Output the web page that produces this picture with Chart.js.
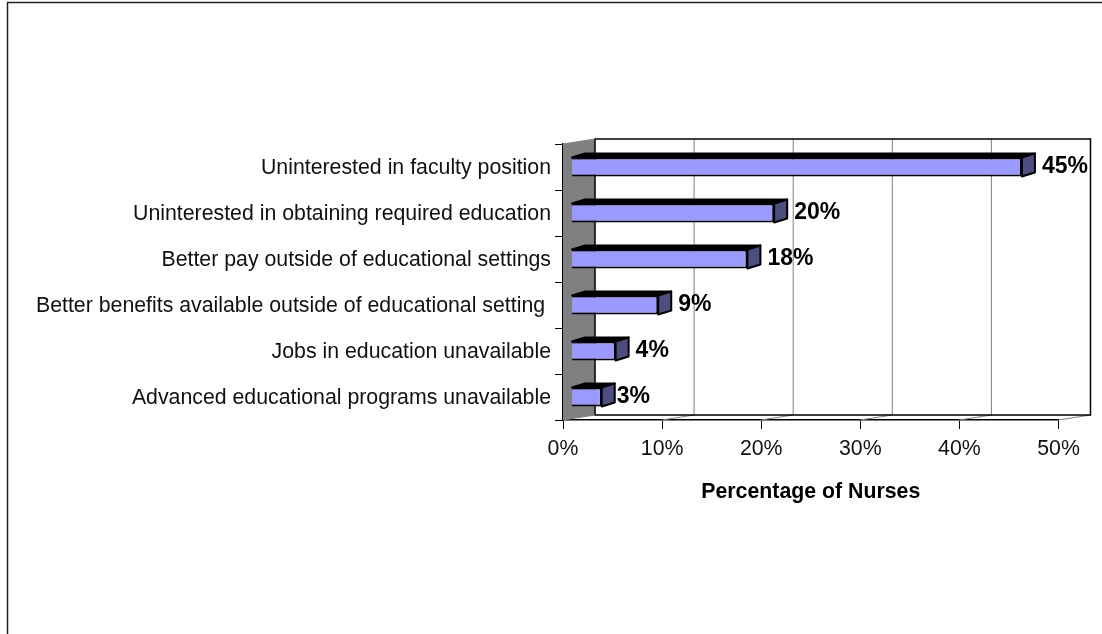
<!DOCTYPE html>
<html>
<head>
<meta charset="utf-8">
<title>Percentage of Nurses</title>
<script src="https://cdn.jsdelivr.net/npm/chart.js@4"></script>
<style>
  html, body { margin: 0; padding: 0; background: #fff; }
  #box { position: relative; width: 1102px; height: 634px; }
</style>
</head>
<body>
<div id="box"><canvas id="grafico"></canvas></div>
<script>
const categorias = [
  'Uninterested in faculty position',
  'Uninterested in obtaining required education',
  'Better pay outside of educational settings',
  'Better benefits available outside of educational setting ',
  'Jobs in education unavailable',
  'Advanced educational programs unavailable'
];
const valores = [45.4, 20.4, 17.7, 8.7, 4.4, 3.0];
const rotulos = ['45%', '20%', '18%', '9%', '4%', '3%'];
const ticksX = [0, 10, 20, 30, 40, 50];

const fonte = '"Liberation Sans", Arial, sans-serif';
const fundoX = 32, fundoY = 5;   // profundidade da parede
const barraX = 13, barraY = 4;   // profundidade da barra

// moldura, paredes e grade do fundo
const paredes = {
  id: 'paredes',
  beforeDraw(chart) {
    const c = chart.ctx;
    c.save();
    c.strokeStyle = '#222';
    c.lineWidth = 1.5;
    c.beginPath();
    c.moveTo(7.5, 634);
    c.lineTo(7.5, 2.5);
    c.lineTo(1102, 2.5);
    c.stroke();
    c.restore();
  },
  beforeDatasetsDraw(chart) {
    const c = chart.ctx;
    const a = chart.chartArea;
    const x = chart.scales.x;
    c.save();
    // parede esquerda
    c.fillStyle = '#808080';
    c.beginPath();
    c.moveTo(a.left, a.top);
    c.lineTo(a.left + fundoX, a.top - fundoY);
    c.lineTo(a.left + fundoX, a.bottom - fundoY);
    c.lineTo(a.left, a.bottom);
    c.closePath();
    c.fill();
    c.strokeStyle = '#808080';
    c.lineWidth = 1;
    ticksX.forEach(v => {
      const px = x.getPixelForValue(v);
      if (v > 0 && v < 50) {
        c.beginPath();
        c.moveTo(px + fundoX, a.top - fundoY);
        c.lineTo(px + fundoX, a.bottom - fundoY);
        c.stroke();
      }
      if (v > 0) {
        c.beginPath();
        c.moveTo(px, a.bottom);
        c.lineTo(px + fundoX, a.bottom - fundoY);
        c.stroke();
      }
    });
    // contorno do fundo
    c.strokeStyle = '#000';
    c.lineWidth = 1.5;
    c.beginPath();
    c.moveTo(a.left + fundoX, a.top - fundoY);
    c.lineTo(a.right + fundoX, a.top - fundoY);
    c.lineTo(a.right + fundoX, a.bottom - fundoY);
    c.lineTo(a.left + fundoX, a.bottom - fundoY);
    c.closePath();
    c.stroke();
    c.strokeStyle = '#808080';
    c.lineWidth = 1;
    c.beginPath();
    c.moveTo(a.left, a.top);
    c.lineTo(a.left + fundoX, a.top - fundoY);
    c.moveTo(a.left, a.bottom);
    c.lineTo(a.left + fundoX, a.bottom - fundoY);
    c.stroke();
    c.restore();
  },
  afterDatasetsDraw(chart) {
    const c = chart.ctx;
    c.save();
    chart.getDatasetMeta(0).data.forEach((barra, i) => {
      const p = barra.getProps(['x', 'y', 'base', 'height'], true);
      const topo = p.y - p.height / 2;
      const baixo = p.y + p.height / 2;
      c.lineWidth = 2;
      c.strokeStyle = '#000';
      c.lineJoin = 'round';
      // face de cima
      c.fillStyle = '#000';
      c.beginPath();
      c.moveTo(p.base, topo);
      c.lineTo(p.base + barraX, topo - barraY);
      c.lineTo(p.x + barraX, topo - barraY);
      c.lineTo(p.x, topo);
      c.closePath();
      c.fill();
      c.stroke();
      // face lateral
      c.fillStyle = '#4d4d80';
      c.beginPath();
      c.moveTo(p.x, topo);
      c.lineTo(p.x + barraX, topo - barraY);
      c.lineTo(p.x + barraX, baixo - barraY);
      c.lineTo(p.x, baixo);
      c.closePath();
      c.fill();
      c.stroke();
      // rótulo
      c.fillStyle = '#000';
      c.font = 'bold 23px ' + fonte;
      c.textAlign = 'left';
      c.textBaseline = 'middle';
      c.fillText(rotulos[i], p.x + barraX + (i === 5 ? 2 : 7), p.y);
    });
    c.restore();
  }
};

new Chart(document.getElementById('grafico').getContext('2d'), {
  type: 'bar',
  data: {
    labels: categorias,
    datasets: [{
      data: valores,
      xAxisID: 'x2',
      backgroundColor: '#9999ff',
      borderColor: '#000',
      borderWidth: 2,
      categoryPercentage: 1,
      barPercentage: 0.41
    }]
  },
  options: {
    indexAxis: 'y',
    responsive: true,
    maintainAspectRatio: false,
    animation: false,
    devicePixelRatio: 1,
    layout: { padding: { left: 0, right: 43.5, top: 144, bottom: 129 } },
    plugins: { legend: { display: false }, tooltip: { enabled: false } },
    scales: {
      x: {
        type: 'linear',
        min: 0,
        max: 50,
        afterBuildTicks: escala => { escala.ticks = ticksX.map(v => ({ value: v })); },
        afterFit: escala => { escala.height = 85; },
        border: { display: true, color: '#000', width: 1.5 },
        grid: { display: true, drawOnChartArea: false, drawTicks: true, tickLength: 9, color: '#000', tickWidth: 1 },
        ticks: {
          color: '#111',
          font: { family: fonte, size: 21.3 },
          padding: 7,
          maxRotation: 0,
          callback: v => v + '%'
        },
        title: {
          display: true,
          text: 'Percentage of Nurses',
          color: '#000',
          font: { family: fonte, size: 21.3, weight: 'bold' },
          padding: { top: 0, bottom: 0 }
        }
      },
      // eixo oculto: as barras começam à frente da parede esquerda
      x2: { type: 'linear', display: false, min: -0.91, max: 49.09 },
      y: {
        afterFit: escala => { escala.width = 563; },
        offset: true,
        border: { display: true, color: '#000', width: 1.5 },
        grid: { display: true, offset: true, drawOnChartArea: false, tickLength: 8, color: '#000' },
        ticks: {
          color: '#111',
          font: { family: fonte, size: 21.3 },
          padding: 4,
          labelOffset: 1.5,
          autoSkip: false
        }
      }
    }
  },
  plugins: [paredes]
});
</script>
</body>
</html>
